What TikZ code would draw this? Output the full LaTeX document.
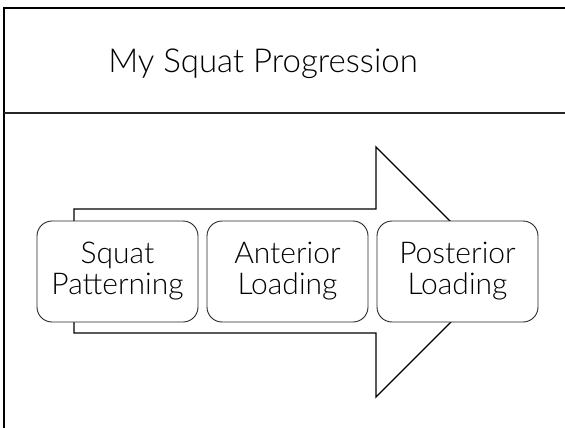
\documentclass[tikz,border=0pt]{standalone}
\usepackage{fontspec}
\setmainfont{Lato}[UprightFont={* Light}]
\begin{document}
\begin{tikzpicture}[x=1pt,y=-1pt,
  stage/.style={draw=black!85, line width=0.9pt, rounded corners=15pt, fill=white,
    minimum width=161pt, minimum height=101pt, align=center,
    font=\fontsize{30}{31}\selectfont, inner sep=0pt},
  frameline/.style={line width=2.4pt, line cap=rect},
  rule/.style={line width=1.4pt, draw=black!85}]
\useasboundingbox (0,0) rectangle (565,428);
% slide frame and title rule
\draw[frameline] (4,428) -- (4,8) -- (565,8);
\draw[rule] (4,113) -- (565,113);
\node (title) at (263,64) {\fontsize{33}{36}\selectfont My Squat Progression};
% big outlined arrow behind the stages
\draw[line width=1.3pt, line join=miter] (74,209) -- (376,209) -- (376,147) -- (501,272)
  -- (376,397) -- (376,333) -- (74,333) -- cycle;
% stage boxes
\node[stage] (s1) at (117.5,271.5) {Squat\\Patterning};
\node[stage] (s2) at (287.5,271.5) {Anterior\\Loading};
\node[stage] (s3) at (457.5,271.5) {Posterior\\Loading};
\end{tikzpicture}
\end{document}
